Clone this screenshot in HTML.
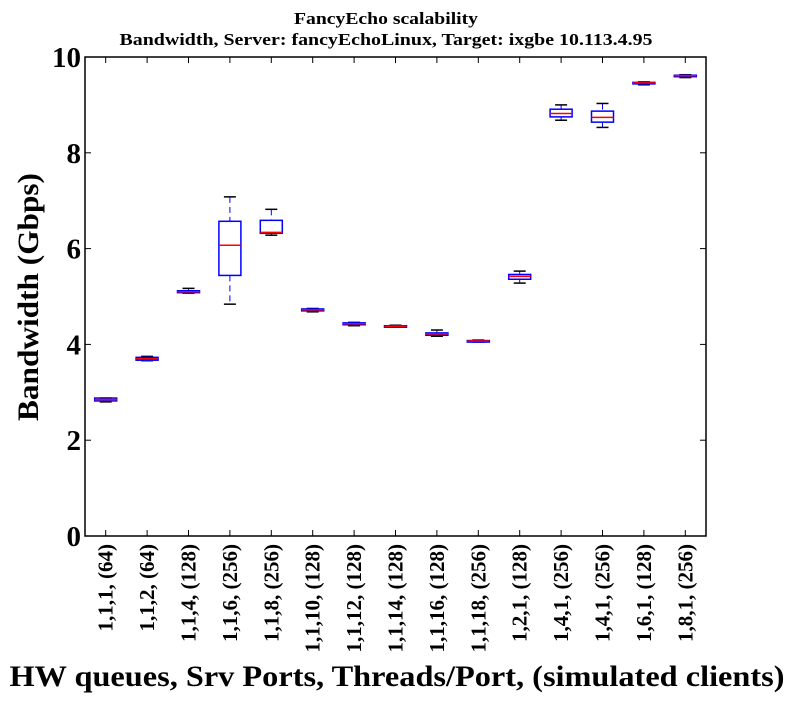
<!DOCTYPE html>
<html><head><meta charset="utf-8"><style>
body{margin:0;background:#fff;}
svg text{font-family:"Liberation Serif",serif;font-weight:bold;fill:#000;}
</style></head><body>
<svg id="chart" width="792" height="702" viewBox="0 0 792 702">
<text x="386" y="24" text-anchor="middle" font-size="17" textLength="184" lengthAdjust="spacingAndGlyphs">FancyEcho scalability</text>
<text x="386" y="45" text-anchor="middle" font-size="17" textLength="533" lengthAdjust="spacingAndGlyphs">Bandwidth, Server: fancyEchoLinux, Target: ixgbe 10.113.4.95</text>
<text transform="translate(38,297) rotate(-90)" text-anchor="middle" font-size="30" textLength="248" lengthAdjust="spacingAndGlyphs">Bandwidth (Gbps)</text>
<text x="397" y="686" text-anchor="middle" font-size="30" textLength="775" lengthAdjust="spacingAndGlyphs">HW queues, Srv Ports, Threads/Port, (simulated clients)</text>
<g id="plot"></g>
</svg>
<script>
const categories=["1,1,1, (64)","1,1,2, (64)","1,1,4, (128)","1,1,6, (256)","1,1,8, (256)","1,1,10, (128)","1,1,12, (128)","1,1,14, (128)","1,1,16, (128)","1,1,18, (256)","1,2,1, (128)","1,4,1, (256)","1,4,1, (256)","1,6,1, (128)","1,8,1, (256)"];
const whiskerLow=[2.80,3.66,5.07,4.84,6.28,4.68,4.39,4.36,4.17,4.05,5.28,8.68,8.53,9.42,9.57];
const q1=[2.82,3.67,5.08,5.44,6.32,4.70,4.41,4.37,4.19,4.06,5.36,8.75,8.64,9.44,9.59];
const medians=[2.85,3.70,5.10,6.07,6.34,4.72,4.43,4.38,4.22,4.07,5.42,8.82,8.74,9.46,9.61];
const q3=[2.88,3.73,5.12,6.57,6.59,4.74,4.45,4.39,4.24,4.08,5.46,8.91,8.87,9.47,9.62];
const whiskerHigh=[2.88,3.75,5.17,7.08,6.82,4.75,4.46,4.40,4.30,4.09,5.53,9.00,9.03,9.48,9.63];
const yTicks=[0,2,4,6,8,10];

const L=85,R=706,T=57,B=536,ymax=10;
const NS="http://www.w3.org/2000/svg";
const g=document.getElementById('plot');
const step=(R-L)/categories.length;
const xs=i=>L+step*(i+0.5);
const ys=v=>B-(v/ymax)*(B-T);
function mk(tag,attrs){const e=document.createElementNS(NS,tag);for(const k in attrs)e.setAttribute(k,attrs[k]);g.appendChild(e);return e;}
const frame=mk('rect',{x:L,y:T,width:R-L,height:B-T,fill:'none',stroke:'#000','stroke-width':1.5});


yTicks.forEach(t=>{
  const y=ys(t);
  const a=mk('line',{x1:L,x2:L+6,y1:y,y2:y,stroke:'#000'});
  
  
  const b=mk('line',{x1:R-6,x2:R,y1:y,y2:y,stroke:'#000'});
  
  
  const tx=mk('text',{x:L-4,y:y+10,'text-anchor':'end','font-size':29});
  tx.textContent=t;
  
  
});
categories.forEach((c,i)=>{
  const x=xs(i);
  const t1=mk('line',{x1:x,x2:x,y1:B,y2:B-6,stroke:'#000'});
  
  
  const t2=mk('line',{x1:x,x2:x,y1:T,y2:T+6,stroke:'#000'});
  
  
  const lb=mk('text',{transform:`translate(${x+7},${B+8}) rotate(-90)`,'text-anchor':'end','font-size':21});
  lb.textContent=c;
  
  
  const hw=11;
  const w1=mk('line',{x1:x,x2:x,y1:ys(whiskerHigh[i]),y2:ys(q3[i]),stroke:'#00f','stroke-dasharray':'6,4'});
  
  
  const w2=mk('line',{x1:x,x2:x,y1:ys(q1[i]),y2:ys(whiskerLow[i]),stroke:'#00f','stroke-dasharray':'6,4'});
  
  
  const c1=mk('line',{x1:x-6,x2:x+6,y1:ys(whiskerHigh[i]),y2:ys(whiskerHigh[i]),stroke:'#000','stroke-width':1.5});
  
  
  const c2=mk('line',{x1:x-6,x2:x+6,y1:ys(whiskerLow[i]),y2:ys(whiskerLow[i]),stroke:'#000','stroke-width':1.5});
  
  
  const bx=mk('rect',{x:x-hw,y:ys(q3[i]),width:2*hw,height:Math.max(ys(q1[i])-ys(q3[i]),1.5),fill:'none',stroke:'#00f','stroke-width':1.5});
  
  
  const md=mk('line',{x1:x-hw,x2:x+hw,y1:ys(medians[i]),y2:ys(medians[i]),stroke:'#f00','stroke-width':1.5});
  
  
});
</script>
</body></html>
